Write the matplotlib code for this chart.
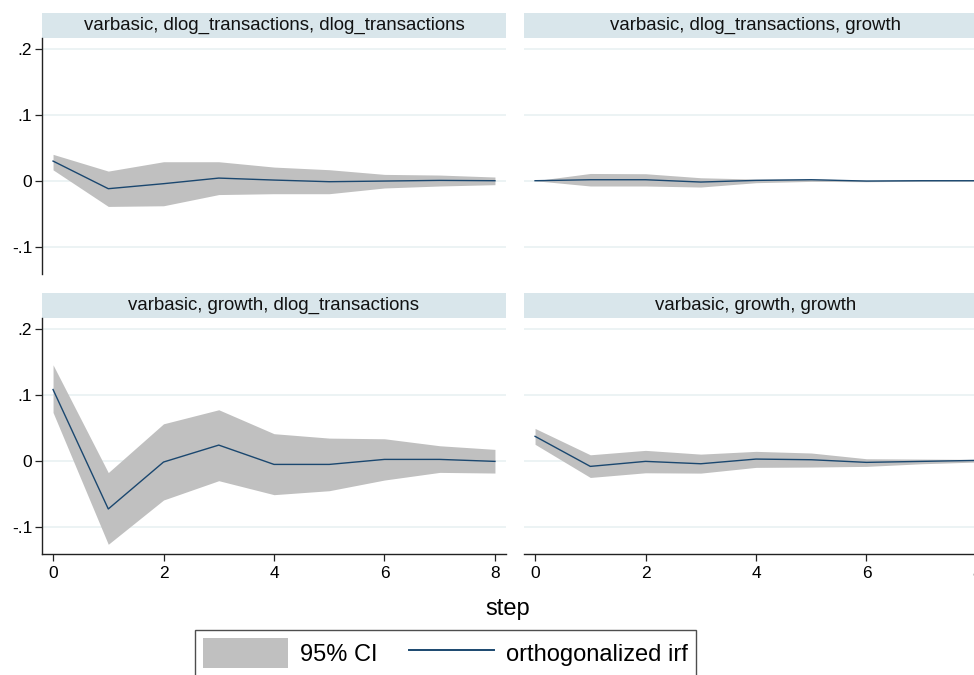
import matplotlib
matplotlib.use("Agg")
import matplotlib.pyplot as plt
from matplotlib.patches import Rectangle

plt.rcParams['font.family'] = ['Liberation Sans', 'DejaVu Sans']

steps = [0, 1, 2, 3, 4, 5, 6, 7, 8]

titles = [
    "varbasic, dlog_transactions, dlog_transactions",
    "varbasic, dlog_transactions, growth",
    "varbasic, growth, dlog_transactions",
    "varbasic, growth, growth",
]

# panel 1: dlog_transactions -> dlog_transactions
irf_tt = [0.0298, -0.0121, -0.0045, 0.0040, 0.0010, -0.0015, -0.0005, 0.0005, 0.0000]
lo_tt = [0.0165, -0.0390, -0.0380, -0.0210, -0.0197, -0.0197, -0.0110, -0.0080, -0.0060]
hi_tt = [0.0400, 0.0146, 0.0288, 0.0288, 0.0207, 0.0167, 0.0096, 0.0086, 0.0056]

# panel 2: dlog_transactions -> growth
irf_tg = [0.0000, 0.0015, 0.0015, -0.0020, 0.0005, 0.0015, -0.0005, 0.0000, 0.0000]
lo_tg = [0.0000, -0.0080, -0.0080, -0.0096, -0.0030, -0.0010, -0.0015, -0.0008, -0.0005]
hi_tg = [0.0000, 0.0110, 0.0106, 0.0045, 0.0025, 0.0030, 0.0005, 0.0008, 0.0005]

# panel 3: growth -> dlog_transactions
irf_gt = [0.1080, -0.0732, -0.0020, 0.0237, -0.0056, -0.0056, 0.0020, 0.0020, -0.0010]
lo_gt = [0.0732, -0.1268, -0.0596, -0.0303, -0.0515, -0.0455, -0.0293, -0.0177, -0.0187]
hi_gt = [0.1455, -0.0180, 0.0560, 0.0773, 0.0410, 0.0343, 0.0333, 0.0227, 0.0172]

# panel 4: growth -> growth
irf_gg = [0.0370, -0.0086, -0.0010, -0.0046, 0.0025, 0.0015, -0.0025, -0.0010, 0.0005]
lo_gg = [0.0249, -0.0254, -0.0183, -0.0188, -0.0101, -0.0096, -0.0086, -0.0046, -0.0020]
hi_gg = [0.0490, 0.0090, 0.0157, 0.0100, 0.0142, 0.0117, 0.0030, 0.0025, 0.0020]

yticks = [-0.1, 0.0, 0.1, 0.2]
ytick_labels = ["-.1", "0", ".1", ".2"]
xticks = [0, 2, 4, 6, 8]
xtick_labels = ["0", "2", "4", "6", "8"]

panels = [(irf_tt, lo_tt, hi_tt), (irf_tg, lo_tg, hi_tg),
          (irf_gt, lo_gt, hi_gt), (irf_gg, lo_gg, hi_gg)]

W, H = 974, 675
fig = plt.figure(figsize=(W / 100, H / 100), dpi=100)
fig.patch.set_facecolor('white')

CI_COLOR = '#c0c0c0'
LINE_COLOR = '#1a476f'
STRIP_COLOR = '#d9e6eb'
GRID_COLOR = '#eaf2f3'

# pixel layout
lefts = [42, 524, 42, 524]
tops = [38, 38, 318, 318]
pw, ph = 464, 236
strip_h = 25

handles = None
for i, (irf, lo, hi) in enumerate(panels):
    l, t = lefts[i], tops[i]
    ax = fig.add_axes([l / W, 1 - (t + ph) / H, pw / W, ph / H])
    ax.set_xlim(-0.2, 8.2)
    ax.set_ylim(-0.1415, 0.2165)
    ax.set_yticks(yticks)
    ax.grid(axis='y', color=GRID_COLOR, linewidth=1.3)
    ax.set_axisbelow(True)
    band = ax.fill_between(steps, lo, hi, color=CI_COLOR, linewidth=0, zorder=2)
    line, = ax.plot(steps, irf, color=LINE_COLOR, linewidth=1.0, zorder=3)
    if handles is None:
        handles = [band, line]
    for s in ['top', 'right']:
        ax.spines[s].set_visible(False)
    if i in (0, 2):
        ax.spines['left'].set_color('#222222')
        ax.spines['left'].set_linewidth(1.0)
        ax.set_yticklabels(ytick_labels, fontsize=12.5)
        ax.tick_params(axis='y', length=5, width=0.9, color='#222222', pad=2)
    else:
        ax.spines['left'].set_visible(False)
        ax.tick_params(axis='y', left=False, labelleft=False)
    if i in (2, 3):
        ax.set_xticks(xticks)
        ax.set_xticklabels(xtick_labels, fontsize=12.5)
        ax.spines['bottom'].set_color('#222222')
        ax.spines['bottom'].set_linewidth(1.0)
        ax.tick_params(axis='x', length=5, width=0.9, color='#222222', pad=4)
    else:
        ax.spines['bottom'].set_visible(False)
        ax.tick_params(axis='x', bottom=False, labelbottom=False)
    # title strip
    strip = Rectangle((0, 1.0), 1.0, strip_h / ph, transform=ax.transAxes,
                      facecolor=STRIP_COLOR, edgecolor='none', clip_on=False, zorder=1)
    ax.add_patch(strip)
    ax.text(0.5, 1.0 + strip_h / ph / 2, titles[i], transform=ax.transAxes,
            ha='center', va='center', fontsize=13.4, color='#111111')

fig.text(508 / W, 1 - 609 / H, "step", ha='center', va='center', fontsize=17)

leg = fig.legend(handles, ["95% CI", "orthogonalized irf"], loc='upper center',
                 bbox_to_anchor=(445.5 / W, 1 - 630 / H), ncol=2, fontsize=17,
                 frameon=True, fancybox=False, edgecolor='#222222',
                 handlelength=3.6, handleheight=1.55, handletextpad=0.5,
                 columnspacing=1.35, borderpad=0.35, borderaxespad=0)
leg.get_frame().set_linewidth(1.0)
leg.legend_handles[1].set_linewidth(1.4)

fig.savefig("out.png", dpi=100)
